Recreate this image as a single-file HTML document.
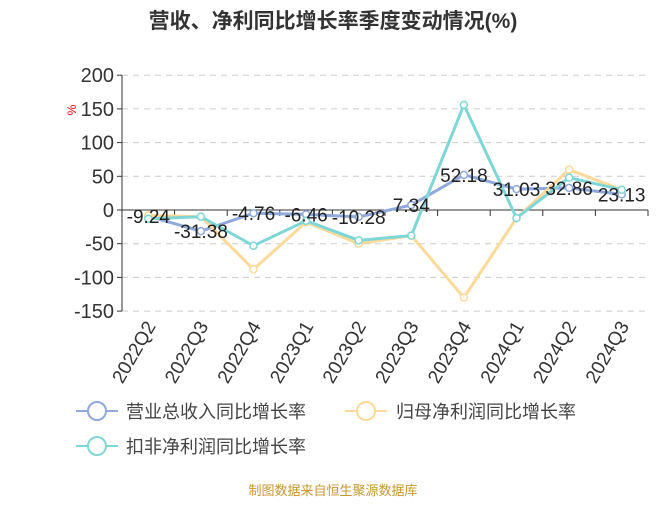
<!DOCTYPE html>
<html><head><meta charset="utf-8"><style>
body{margin:0;background:#fff;}
svg text{font-family:"Liberation Sans","Noto Sans CJK SC",sans-serif;}
</style></head><body>
<svg width="667" height="500" viewBox="0 0 667 500" xmlns="http://www.w3.org/2000/svg">
<text x="333" y="28" text-anchor="middle" font-size="21" font-weight="bold" fill="#333">营收、净利同比增长率季度变动情况(%)</text>
<text x="76" y="110" font-size="12" fill="#e00" transform="rotate(-90 76 110)" text-anchor="middle">%</text>
<g id="grid"></g><g id="axes"></g><g id="series"></g><g id="labels"></g>
<g>
<g><line x1="76" y1="411" x2="118" y2="411" stroke="#8fa9dc" stroke-width="2"/><circle cx="97" cy="411" r="9" fill="#fff" stroke="#8fa9dc" stroke-width="2"/><text x="126" y="418" font-size="18" fill="#444">营业总收入同比增长率</text></g>
<g><line x1="345" y1="411" x2="387" y2="411" stroke="#fdd99a" stroke-width="2"/><circle cx="366" cy="411" r="9" fill="#fff" stroke="#fdd99a" stroke-width="2"/><text x="396" y="418" font-size="18" fill="#444">归母净利润同比增长率</text></g>
<g><line x1="76" y1="446" x2="118" y2="446" stroke="#7fd6d6" stroke-width="2"/><circle cx="97" cy="446" r="9" fill="#fff" stroke="#7fd6d6" stroke-width="2"/><text x="126" y="453" font-size="18" fill="#444">扣非净利润同比增长率</text></g>
</g>
<text x="333" y="495" text-anchor="middle" font-size="13" fill="#c8962e">制图数据来自恒生聚源数据库</text>
</svg>
<script>
const categories=["2022Q2","2022Q3","2022Q4","2023Q1","2023Q2","2023Q3","2023Q4","2024Q1","2024Q2","2024Q3"];
const revenue=[-9.24,-31.38,-4.76,-6.46,-10.28,7.34,52.18,31.03,32.86,23.13];
const netProfit=[-8,-10,-88,-18,-50,-38,-130,-12,60,30];
const deducted=[-13,-10,-53,-16,-45,-38,156,-12,48,30];
const yTicks=[200,150,100,50,0,-50,-100,-150];
const NS="http://www.w3.org/2000/svg";
const x0=122,x1=648,y0=210,pxPer=0.674;
const yS=v=>y0-v*pxPer;
const step=(x1-x0)/categories.length;
const xS=i=>x0+step*(i+0.5);
function mk(tag,attrs,parent,txt){const e=document.createElementNS(NS,tag);for(const k in attrs)e.setAttribute(k,attrs[k]);if(txt!==undefined)e.textContent=txt;parent.appendChild(e);return e;}
const grid=document.getElementById('grid'),axes=document.getElementById('axes'),series=document.getElementById('series'),labels=document.getElementById('labels');
yTicks.forEach(t=>{
 if(t!==0){const l=mk('line',{x1:x0,x2:x1,y1:yS(t),y2:yS(t),stroke:'#ccc','stroke-dasharray':'6,5'},grid);
 
 }
 mk('line',{x1:x0-5,x2:x0,y1:yS(t),y2:yS(t),stroke:'#333'},axes);
 const tx=mk('text',{x:x0-8,y:yS(t)+7,'text-anchor':'end','font-size':'20',fill:'#333'},axes,t);
 
 
});
const ya=mk('line',{x1:x0,x2:x0,y1:yS(200),y2:yS(-150),stroke:'#333'},axes);


const xa=mk('line',{x1:x0,x2:x1,y1:y0,y2:y0,stroke:'#333'},axes);


categories.forEach((c,i)=>{
 const tx0=x0+step*(i+1);
 mk('line',{x1:tx0,x2:tx0,y1:y0,y2:y0+6,stroke:'#333'},axes);
 const cx=xS(i);
 const t=mk('text',{x:cx+8,y:326,'text-anchor':'end','font-size':'19',fill:'#333',transform:`rotate(-60 ${cx+8} 326)`},axes,c);
 
 
});
function draw(data,color,name){
 const p=mk('polyline',{points:data.map((v,i)=>xS(i)+','+yS(v)).join(' '),fill:'none',stroke:color,'stroke-width':3},series);
 
 
 data.forEach((v,i)=>{
  const c=mk('circle',{cx:xS(i),cy:yS(v),r:3.5,fill:'#fff',stroke:color,'stroke-width':1.5},series);
  
  
 });
}
draw(revenue,'#8fa9dc','revenue');
draw(netProfit,'#fdd99a','net-profit');
draw(deducted,'#7fd6d6','deducted-profit');
revenue.forEach((v,i)=>{
 const t=mk('text',{x:xS(i),y:yS(v)+7,'text-anchor':'middle','font-size':'19',fill:'#222'},labels,String(v));
 
 
});
</script>
</body></html>
